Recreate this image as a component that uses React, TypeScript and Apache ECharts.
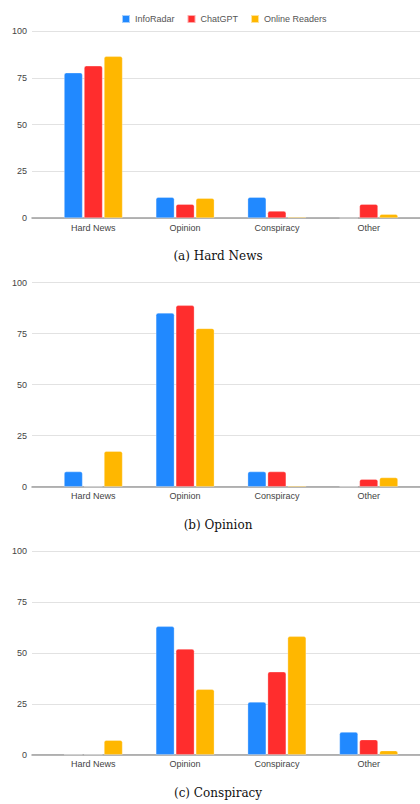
import React, { useEffect, useRef } from "react";
import * as echarts from "echarts";

const categories = ["Hard News", "Opinion", "Conspiracy", "Other"];
const seriesNames = ["InfoRadar", "ChatGPT", "Online Readers"];
const colors = ["#2189ff", "#ff2d2d", "#ffb700"];
const yTicks = [0, 25, 50, 75, 100];

// (a) Hard News
const hardInfoRadar = [77.8, 11.1, 11.1, 0];
const hardChatGPT = [81.5, 7.4, 3.7, 7.4];
const hardReaders = [86.6, 10.6, 0.5, 2.0];
// (b) Opinion
const opinionInfoRadar = [7.4, 85.2, 7.4, 0];
const opinionChatGPT = [0, 88.9, 7.4, 3.7];
const opinionReaders = [17.4, 77.6, 0.5, 4.5];
// (c) Conspiracy
const conspInfoRadar = [0, 63.0, 25.9, 11.1];
const conspChatGPT = [0, 51.9, 40.7, 7.4];
const conspReaders = [7.1, 32.1, 58.1, 2.0];

const captions = ["(a) Hard News", "(b) Opinion", "(c) Conspiracy"];

const panels = [
  { data: [hardInfoRadar, hardChatGPT, hardReaders], top: 31.3, height: 186.7, captionY: 256 },
  { data: [opinionInfoRadar, opinionChatGPT, opinionReaders], top: 282.7, height: 204, captionY: 525 },
  { data: [conspInfoRadar, conspChatGPT, conspReaders], top: 551, height: 203.7, captionY: 793 },
];

const FONT = "'Liberation Sans', Arial, sans-serif";

export default function App() {
  const ref = useRef<HTMLDivElement>(null);
  useEffect(() => {
    if (!ref.current) return;
    const chart = echarts.init(ref.current, null, { renderer: "svg" });
    const grid: any[] = [];
    const xAxis: any[] = [];
    const yAxis: any[] = [];
    const series: any[] = [];
    const graphic: any[] = [];

    panels.forEach((p, i) => {
      grid.push({ left: 32, right: 0, top: p.top, height: p.height });
      grid.push({ left: 47.4, width: 367.2, top: p.top, height: p.height });
      const ga = i * 2;
      const gb = i * 2 + 1;
      xAxis.push({
        gridIndex: ga,
        type: "value",
        min: 0,
        max: 1,
        axisLine: { show: true, lineStyle: { color: "#9e9e9e", width: 1.5 } },
        axisTick: { show: false },
        axisLabel: { show: false },
        splitLine: { show: false },
      });
      yAxis.push({
        gridIndex: ga,
        type: "value",
        min: yTicks[0],
        max: yTicks[yTicks.length - 1],
        interval: 25,
        axisLine: { show: false },
        axisTick: { show: false },
        axisLabel: { color: "#444", fontSize: 9, fontFamily: FONT, margin: 5 },
        splitLine: { lineStyle: { color: "#e2e2e2", width: 1 } },
      });
      xAxis.push({
        gridIndex: gb,
        type: "category",
        data: categories,
        axisLine: { show: false },
        axisTick: { show: false },
        axisLabel: { color: "#444", fontSize: 9, fontFamily: FONT, margin: 5 },
        splitLine: { show: false },
      });
      yAxis.push({
        gridIndex: gb,
        type: "value",
        min: 0,
        max: 100,
        show: false,
        splitLine: { show: false },
      });
      series.push({
        type: "scatter",
        xAxisIndex: ga,
        yAxisIndex: ga,
        data: [],
        silent: true,
      });
      p.data.forEach((vals, s) => {
        series.push({
          type: "bar",
          name: seriesNames[s],
          xAxisIndex: gb,
          yAxisIndex: gb,
          data: vals,
          barWidth: 18.5,
          barGap: "8%",
          z: 3,
          itemStyle: {
            color: colors[s],
            borderRadius: [2, 2, 0, 0],
            borderColor: "rgba(255,255,255,0.6)",
            borderWidth: 0.5,
          },
        });
      });
      graphic.push({
        type: "text",
        x: 218,
        y: p.captionY,
        style: {
          text: captions[i],
          font: "12px 'DejaVu Serif', serif",
          fill: "#111",
          textAlign: "center",
          textVerticalAlign: "middle",
        },
      });
    });

    chart.setOption({
      animation: false,
      backgroundColor: "#fff",
      legend: {
        data: seriesNames,
        top: 9,
        left: 116,
        itemWidth: 8,
        itemHeight: 8,
        itemGap: 12,
        icon: "rect",
        textStyle: { color: "#555", fontSize: 9, fontFamily: FONT },
      },
      grid,
      xAxis,
      yAxis,
      series,
      graphic,
    });
    return () => chart.dispose();
  }, []);
  return (
    <div
      ref={ref}
      style={{ position: "absolute", left: 0, top: 0, width: 420, height: 804 }}
    />
  );
}
